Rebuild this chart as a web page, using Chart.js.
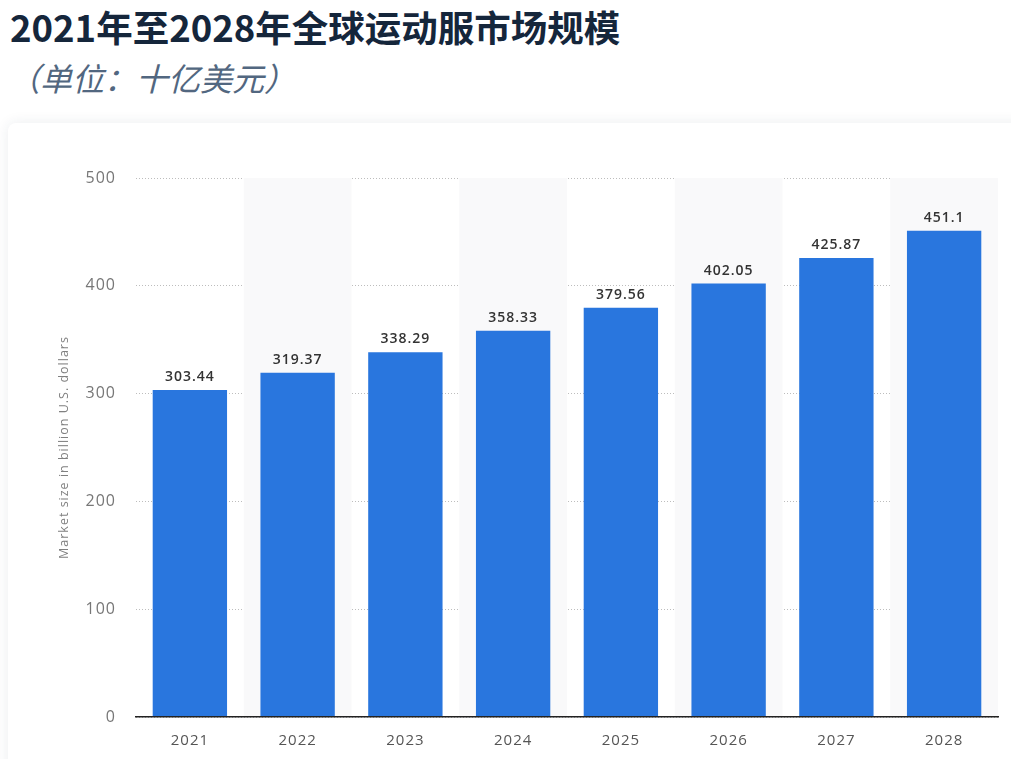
<!DOCTYPE html>
<html>
<head>
<meta charset="utf-8">
<script src="https://cdn.jsdelivr.net/npm/chart.js@4"></script>
<style>
  body { margin: 0; background: #fff; width: 1011px; height: 759px; overflow: hidden; position: relative; }
  #title { position: absolute; left: 10px; top: 0px; font-family: "Noto Sans CJK SC", sans-serif; font-weight: 700; font-size: 36.5px; color: #15263b; white-space: nowrap; }
  #subtitle { position: absolute; left: 8px; top: 54px; font-family: "Noto Sans CJK SC", sans-serif; font-style: italic; font-size: 32px; color: #526780; white-space: nowrap; }
  #card { position: absolute; left: 8px; top: 123px; width: 1040px; height: 700px; background: #fff; border-radius: 8px; box-shadow: 0 0 14px rgba(30, 50, 80, 0.09); }
  #wrap { position: absolute; left: 0; top: 123px; width: 1011px; height: 636px; }
</style>
</head>
<body>
<div id="title">2021年至2028年全球运动服市场规模</div>
<div id="subtitle">（单位：十亿美元）</div>
<div id="card"></div>
<div id="wrap"><canvas id="myChart"></canvas></div>
<script>
var years = ["2021", "2022", "2023", "2024", "2025", "2026", "2027", "2028"];
var marketSize = [303.44, 319.37, 338.29, 358.33, 379.56, 402.05, 425.87, 451.1];
var yTicks = [0, 100, 200, 300, 400, 500];

// grey background on every second column
var stripes = {
  id: "stripes",
  beforeDraw(chart) {
    // labels in the reference are slightly spaced out
    chart.ctx.letterSpacing = "1px";
  },
  beforeDatasetsDraw(chart) {
    let ctx = chart.ctx;
    let x = chart.scales.x;
    let area = chart.chartArea;
    let w = (area.right - area.left) / years.length;
    ctx.save();
    ctx.fillStyle = "#f9f9fa";
    for (let i = 1; i < years.length; i += 2) {
      let cx = x.getPixelForValue(i);
      ctx.fillRect(cx - w / 2, area.top, w, area.bottom - area.top);
    }
    ctx.restore();
  },
};

var valueLabels = {
  id: "valueLabels",
  afterDatasetsDraw(chart) {
    let ctx = chart.ctx;
    let meta = chart.getDatasetMeta(0);
    ctx.save();
    ctx.font = "600 14px 'Open Sans'";
    ctx.fillStyle = "#333333";
    ctx.textAlign = "center";
    ctx.textBaseline = "bottom";
    meta.data.forEach((bar, i) => {
      ctx.fillText(marketSize[i], bar.x, bar.y - 6);
    });
    ctx.restore();
  },
};

new Chart(document.getElementById("myChart"), {
  type: "bar",
  data: {
    labels: years,
    datasets: [
      {
        label: "Market size",
        data: marketSize,
        backgroundColor: "#2976de",
        barPercentage: 0.69,
        categoryPercentage: 1,
      },
    ],
  },
  options: {
    responsive: true,
    maintainAspectRatio: false,
    animation: false,
    layout: { padding: { top: 55, right: 13, left: 0, bottom: 0 } },
    plugins: { legend: { display: false }, tooltip: { enabled: false } },
    scales: {
      x: {
        grid: { display: false, drawTicks: false },
        border: { display: true, color: "#222", width: 1.5, z: 1 },
        ticks: {
          color: "#555",
          font: { family: "Open Sans", size: 15 },
          padding: 15,
        },
        afterFit(scale) {
          scale.height = 42;
        },
      },
      y: {
        min: 0,
        max: 500,
        afterBuildTicks(scale) {
          scale.ticks = yTicks.map((v) => ({ value: v }));
        },
        grid: { color: "#bdbdbd", drawTicks: false, lineWidth: 1 },
        border: { display: false, dash: [1, 2] },
        ticks: {
          color: "#777",
          font: { family: "Open Sans", size: 16 },
          padding: 20,
        },
        title: {
          display: true,
          text: "Market size in billion U.S. dollars",
          color: "#808080",
          font: { family: "Open Sans", size: 12.5 },
          padding: { top: 57, bottom: 0 },
        },
        afterFit(scale) {
          scale.width = 136;
        },
      },
    },
  },
  plugins: [stripes, valueLabels],
});
</script>
</body>
</html>
